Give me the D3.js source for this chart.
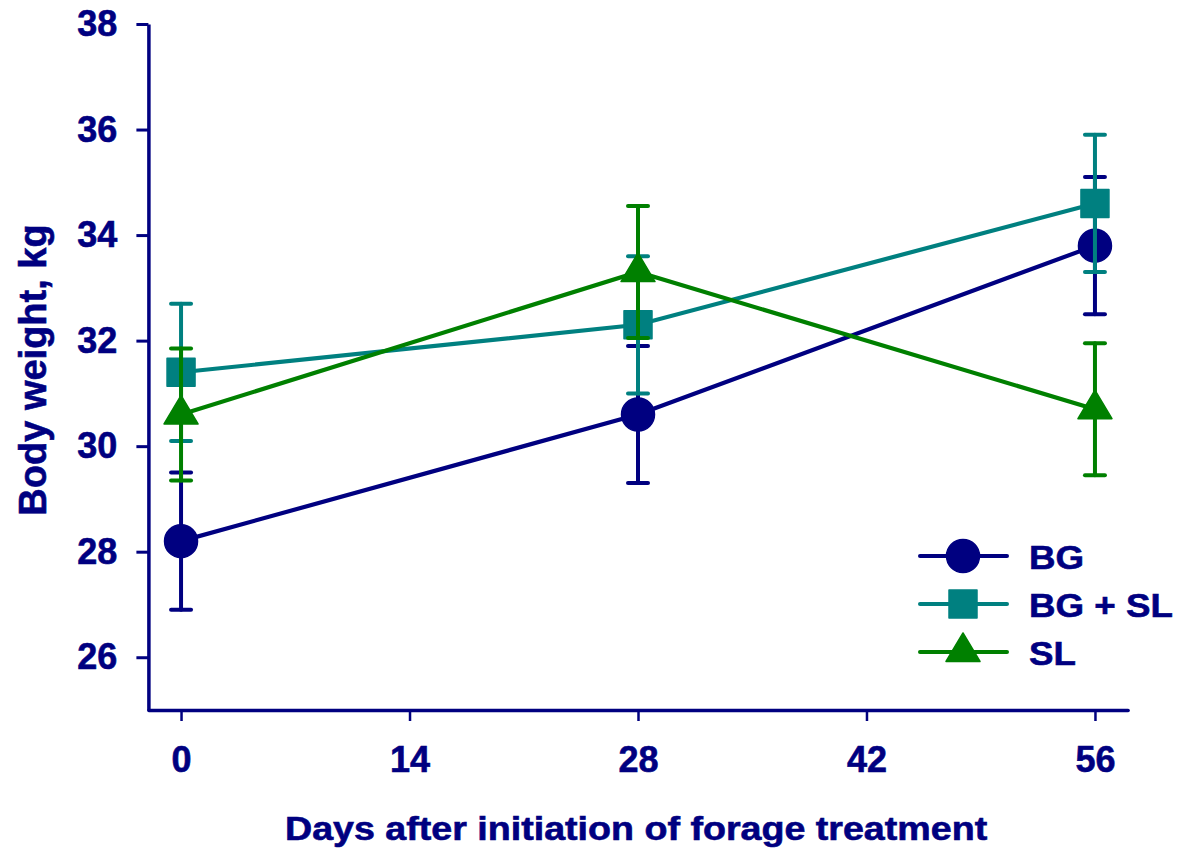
<!DOCTYPE html>
<html>
<head>
<meta charset="utf-8">
<script src="https://cdn.jsdelivr.net/npm/d3@7"></script>
<style>
  html, body { margin: 0; padding: 0; background: #fff; }
  svg { display: block; }
  text { font-family: "Liberation Sans", Arial, sans-serif; font-weight: bold; fill: #000080; stroke: #000080; stroke-width: 0.6px; }
</style>
</head>
<body>
<svg id="chart" width="1180" height="851"></svg>
<script>
// ---- data ----
const days = [0, 28, 56];
const seriesNames = ["BG", "BG + SL", "SL"];
const bgMean = [28.2, 30.6, 33.8];
const bgErr = [1.3, 1.3, 1.3];
const bgslMean = [31.4, 32.3, 34.6];
const bgslErr = [1.3, 1.3, 1.3];
const slMean = [30.6, 33.3, 30.7];
const slErr = [1.25, 1.25, 1.25];
const xTicks = [0, 14, 28, 42, 56];
const yTicks = [26, 28, 30, 32, 34, 36, 38];
const xTitle = "Days after initiation of forage treatment";
const yTitle = "Body weight, kg";

const colors = ["#000080", "#008080", "#008000"];
const shapes = ["circle", "square", "triangle"];

const series = [
  { name: seriesNames[0], mean: bgMean, err: bgErr, color: colors[0], shape: shapes[0] },
  { name: seriesNames[1], mean: bgslMean, err: bgslErr, color: colors[1], shape: shapes[1] },
  { name: seriesNames[2], mean: slMean, err: slErr, color: colors[2], shape: shapes[2] }
];

const svg = d3.select("#chart");
const x = d3.scaleLinear().domain([-2, 58]).range([148.4, 1127.6]);
const y = d3.scaleLinear().domain([25, 38]).range([710, 24]);
const axisColor = "#000080";

function markerPath(shape) {
  if (shape === "circle") return d3.symbol().type(d3.symbolCircle).size(Math.PI * 16.5 * 16.5)();
  if (shape === "square") return "M-14,-14L14,-14L14,14L-14,14Z";
  return "M0,-19L17,9.5L-17,9.5Z";
}

// ---- axes ----
const yAxis = d3.axisLeft(y).tickValues(yTicks).tickSize(12).tickPadding(18).tickSizeOuter(0);
const gy = svg.append("g").attr("transform", `translate(${x(-2)},0)`).call(yAxis);
gy.select(".domain").attr("stroke", axisColor).attr("stroke-width", 3.5);
gy.selectAll(".tick line").attr("stroke", axisColor).attr("stroke-width", 3);
gy.selectAll(".tick text").attr("fill", axisColor).style("font-size", "36px").attr("x", -31);

const xAxis = d3.axisBottom(x).tickValues(xTicks).tickSize(11).tickPadding(25).tickSizeOuter(0);
const gx = svg.append("g").attr("transform", `translate(0,${y(25)})`).call(xAxis);
gx.select(".domain").attr("stroke", axisColor).attr("stroke-width", 3.5).attr("stroke-linecap", "round");
gx.selectAll(".tick line").attr("stroke", axisColor).attr("stroke-width", 2.5);
gx.selectAll(".tick text").attr("fill", axisColor).style("font-size", "36px");

// axis titles
svg.append("text")
  .attr("transform", "translate(285,840) scale(1.14,1)")
  .style("font-size", "33px")
  .text(xTitle);

svg.append("text")
  .attr("transform", "translate(46,370) rotate(-90)")
  .attr("text-anchor", "middle")
  .style("font-size", "38px")
  .text(yTitle);

// ---- series ----
const line = d3.line().x(d => x(d.day)).y(d => y(d.v));
series.forEach(s => {
  const pts = days.map((d, i) => ({ day: d, v: s.mean[i], e: s.err[i] }));
  const g = svg.append("g");
  g.append("path").datum(pts).attr("d", line)
    .attr("fill", "none").attr("stroke", s.color).attr("stroke-width", 4.2);
  const eb = g.selectAll(".eb").data(pts).enter().append("g")
    .attr("stroke", s.color).attr("stroke-width", 4).attr("stroke-linecap", "round");
  eb.append("line").attr("x1", d => x(d.day)).attr("x2", d => x(d.day))
    .attr("y1", d => y(d.v - d.e)).attr("y2", d => y(d.v + d.e));
  eb.append("line").attr("x1", d => x(d.day) - 10).attr("x2", d => x(d.day) + 10)
    .attr("y1", d => y(d.v + d.e)).attr("y2", d => y(d.v + d.e));
  eb.append("line").attr("x1", d => x(d.day) - 10).attr("x2", d => x(d.day) + 10)
    .attr("y1", d => y(d.v - d.e)).attr("y2", d => y(d.v - d.e));
  g.selectAll(".mk").data(pts).enter().append("path")
    .attr("d", markerPath(s.shape))
    .attr("transform", d => `translate(${x(d.day)},${y(d.v)})`)
    .attr("fill", s.color).attr("stroke", s.color).attr("stroke-width", 1.5).attr("stroke-linejoin", "round");
});

// ---- legend ----
const legend = svg.append("g");
series.forEach((s, i) => {
  const cy = 556 + i * 48;
  legend.append("line").attr("x1", 920).attr("x2", 1007).attr("y1", cy).attr("y2", cy)
    .attr("stroke", s.color).attr("stroke-width", 4).attr("stroke-linecap", "round");
  legend.append("path").attr("d", markerPath(s.shape))
    .attr("transform", `translate(963,${cy})`)
    .attr("fill", s.color).attr("stroke", s.color).attr("stroke-width", 1.5).attr("stroke-linejoin", "round");
  legend.append("text")
    .attr("transform", `translate(1029,${cy + 13}) scale(1.08,1)`)
    .style("font-size", "34px")
    .text(s.name);
});
</script>
</body>
</html>
